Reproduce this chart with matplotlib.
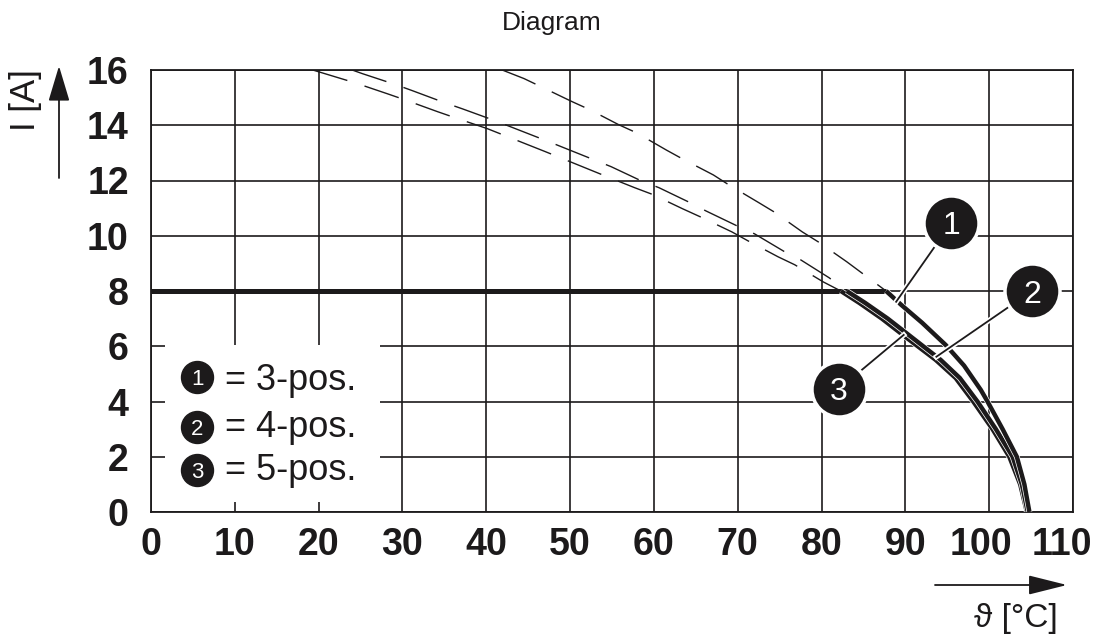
import matplotlib
matplotlib.use("Agg")
import matplotlib.pyplot as plt
import matplotlib.patheffects as pe
import matplotlib.transforms as mtransforms
from matplotlib.patches import Rectangle

plt.rcParams['font.family'] = ['Liberation Sans', 'DejaVu Sans']

# derating curves: temperature [°C] -> current [A]
temp_3pos = [41.9, 44.5, 46.5, 50.2, 52.3, 55.8, 57.9, 61.5, 63.3, 67.1, 68.9, 72.5, 74.3,
             77.7, 79.6, 83.0, 87.7, 89.5, 92.0, 94.8, 97.0, 99.0, 99.8, 101.6, 103.3, 104.2, 104.8]
curr_3pos = [16.0, 15.69, 15.4, 14.86, 14.57, 14.02, 13.73, 13.1, 12.8, 12.2, 11.85, 11.2, 10.87,
             10.14, 9.78, 9.06, 8.0, 7.5, 6.85, 6.05, 5.3, 4.42, 4.0, 3.0, 2.0, 1.0, 0.0]

temp_4pos = [24.0, 25.2, 29.2, 31.2, 35.0, 37.1, 41.0, 47.5, 54.9, 58.4, 60.6, 64.3, 66.2, 69.9,
             72.0, 75.6, 77.5, 80.9, 83.0, 85.2, 87.9, 90.4, 94.2, 96.5, 98.6, 100.8, 102.8,
             103.9, 104.6]
curr_4pos = [16.0, 15.87, 15.47, 15.25, 14.82, 14.6, 14.17, 13.4, 12.5, 12.0, 11.74, 11.2, 10.9,
             10.36, 10.07, 9.42, 9.13, 8.48, 8.0, 7.57, 7.0, 6.41, 5.51, 4.85, 4.0, 3.0, 2.0,
             1.0, 0.0]

temp_5pos = [19.3, 24.3, 28.2, 30.2, 34.2, 36.2, 40.1, 47.0, 53.9, 57.7, 59.8, 63.4, 65.5, 69.3,
             71.2, 74.8, 76.8, 80.2, 82.3, 84.5, 87.2, 89.7, 93.6, 96.0, 98.1, 100.4, 102.4,
             103.7, 104.5]
curr_5pos = [16.0, 15.54, 15.14, 14.93, 14.49, 14.28, 13.88, 13.05, 12.2, 11.74, 11.5, 10.98,
             10.69, 10.14, 9.82, 9.24, 8.95, 8.33, 8.0, 7.57, 7.0, 6.41, 5.51, 4.85, 4.0, 3.0,
             2.0, 1.0, 0.0]

i_max = 8.0
curve_labels = ['1', '2', '3']
legend_texts = ['= 3-pos.', '= 4-pos.', '= 5-pos.']
x_ticks = list(range(0, 111, 10))
y_ticks = list(range(0, 17, 2))

# callout bubbles: (bubble centre, point on the curve)
callouts = [((95.5, 10.47), (88.9, 7.61)),
            ((105.1, 8.0), (93.7, 5.62)),
            ((82.1, 4.46), (89.8, 6.41))]

ink = '#1c1a1b'

fig = plt.figure(figsize=(11.03, 6.39), dpi=100)
ax = fig.add_axes([151 / 1103, 1 - 512 / 639, (1073 - 151) / 1103, (512 - 70) / 639])
ax.set_xlim(0, 110)
ax.set_ylim(0, 16)
ax.set_xticks(x_ticks)
ax.set_yticks(y_ticks)
ax.set_xticklabels([str(t) for t in x_ticks], fontsize=27, fontweight='bold')
ax.set_yticklabels([str(t) for t in y_ticks], fontsize=27, fontweight='bold')
ax.tick_params(axis='both', length=0, colors=ink)
ax.tick_params(axis='x', pad=11)
ax.tick_params(axis='y', pad=16)
# the last two labels sit left of their grid lines in the original
for lbl, dx in zip(ax.get_xticklabels()[-2:], [-8, -11]):
    lbl.set_transform(lbl.get_transform() + mtransforms.ScaledTranslation(dx / 100, 0, fig.dpi_scale_trans))
ax.grid(True, color=ink, lw=1.2, zorder=0.5)
ax.set_axisbelow(True)
for s in ax.spines.values():
    s.set_color(ink)
    s.set_linewidth(1.3)

curves = [(temp_3pos, curr_3pos), (temp_4pos, curr_4pos), (temp_5pos, curr_5pos)]

# dashed parts above the 8 A limit
for t, c in curves:
    dt = [a for a, b in zip(t, c) if b >= i_max]
    dc = [b for b in c if b >= i_max]
    ax.plot(dt, dc, color=ink, lw=1.0, dashes=(26, 13), zorder=2)

# flat 8 A line
ax.plot([0, max(a for a, b in zip(temp_3pos, curr_3pos) if b >= i_max)],
        [i_max, i_max], color=ink, lw=3.6, solid_capstyle='butt', zorder=3)

# solid derating parts, 5-pos first so the others sit on top
for t, c in reversed(curves):
    st = [a for a, b in zip(t, c) if b <= i_max]
    sc = [b for b in c if b <= i_max]
    ax.plot(st, sc, color=ink, lw=3.2, solid_capstyle='butt', solid_joinstyle='round', zorder=3,
            path_effects=[pe.withStroke(linewidth=4.2, foreground='white')])

# callouts
for lab, (bub, tip) in zip(curve_labels, callouts):
    ax.plot([bub[0], tip[0]], [bub[1], tip[1]], color=ink, lw=1.3, zorder=4,
            path_effects=[pe.withStroke(linewidth=3.8, foreground='white')])
    ax.scatter([bub[0]], [bub[1]], s=1570, color=ink, edgecolors='white', linewidths=2.5,
               zorder=5, clip_on=False)
    ax.text(bub[0], bub[1] - 0.42, lab, color='white', fontsize=23, ha='center',
            va='baseline', zorder=6)

# legend box
ax.add_patch(Rectangle((1.67, 0.36), 25.6, 5.69, facecolor='white', edgecolor='none', zorder=1))
leg_circle_y = [4.89, 3.08, 1.52]
leg_text_y = [4.42, 2.72, 1.16]
for lab, txt, cy, ty in zip(curve_labels, legend_texts, leg_circle_y, leg_text_y):
    ax.scatter([5.5], [cy], s=530, color=ink, zorder=5)
    ax.text(5.5, cy - 0.29, lab, color='white', fontsize=16, ha='center', va='baseline', zorder=6)
    ax.text(8.8, ty, txt, color=ink, fontsize=26, ha='left', va='baseline', zorder=6)

# axis arrows and labels
ax.annotate('', xy=(59, 639 - 66), xytext=(59, 639 - 178), xycoords='figure pixels',
            textcoords='figure pixels',
            arrowprops=dict(arrowstyle='-|>,head_length=1.1,head_width=0.33', mutation_scale=20,
                            color=ink, lw=1.3, shrinkA=0, shrinkB=0))
ax.annotate('', xy=(1067, 639 - 585), xytext=(935, 639 - 585), xycoords='figure pixels',
            textcoords='figure pixels',
            arrowprops=dict(arrowstyle='-|>,head_length=1.2,head_width=0.3', mutation_scale=20,
                            color=ink, lw=1.3, shrinkA=0, shrinkB=0))
fig.text(25 / 1103, 1 - 100 / 639, 'I [A]', rotation=90, ha='center', va='center',
         fontsize=25, color=ink)
fig.text(1016 / 1103, 1 - 618 / 639, 'ϑ [°C]', ha='center', va='center', fontsize=24, color=ink)
fig.text(0.5, 1 - 23 / 639, 'Diagram', ha='center', va='center', fontsize=19, color=ink)

fig.savefig('out.png', dpi=100)
